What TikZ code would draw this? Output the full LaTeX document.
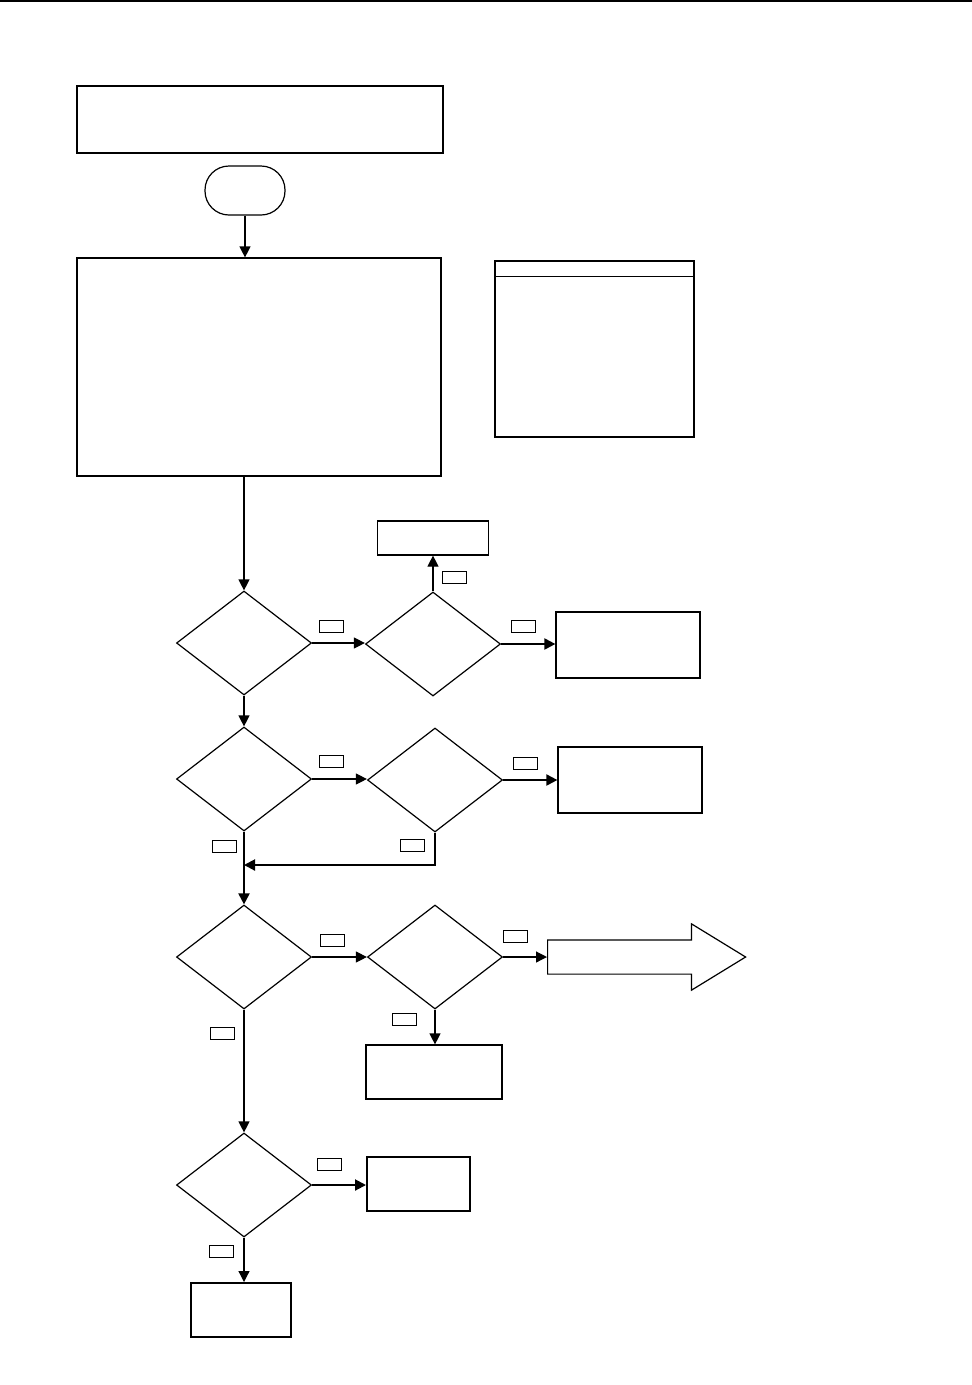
\documentclass[tikz,border=0pt]{standalone}
\usepackage{tikz}
\usetikzlibrary{arrows.meta,positioning,shapes.geometric,shapes.arrows}

\begin{document}
\begin{tikzpicture}[x=1pt, y=-1pt, line width=1.2pt,
  box/.style={draw, rectangle, inner sep=0pt},
  decision/.style={draw, diamond, inner sep=0pt, minimum width=135pt, minimum height=104pt},
  tag/.style={draw, rectangle, inner sep=0pt, line width=0.9pt, minimum width=24pt, minimum height=12pt},
  flow/.style={-{Triangle[length=11pt,width=11pt]}},
  heavy/.style={line width=2pt}]
  \useasboundingbox (0,0) rectangle (972,1385);
  % Page rule
  \draw[line width=1.6pt] (0,1) -- (972,1);
  % Header and start
  \node[box, minimum width=366pt, minimum height=67pt] (title) at (260,119.5) {};
  \node[box, rounded corners=24pt, minimum width=80pt, minimum height=49pt] (start) at (245,190.5) {};
  \node[box, minimum width=364pt, minimum height=218pt] (init) at (259,367) {};
  % Legend
  \node[box, minimum width=199pt, minimum height=176pt] (legend) at (594.5,349) {};
  \draw (legend.north west) ++(0,16) coordinate (lgl) -- (lgl -| legend.east);
  % Decisions
  \node[decision] (d1) at (244,643) {};
  \node[decision] (d2) at (433,644) {};
  \node[decision] (d3) at (244,779) {};
  \node[decision] (d4) at (435,780) {};
  \node[decision] (d5) at (244,957) {};
  \node[decision] (d6) at (435,957) {};
  \node[decision] (d7) at (244,1185) {};
  % Outcome boxes
  \node[box, minimum width=111pt, minimum height=34pt] (out1) at (433,538) {};
  \node[box, minimum width=144pt, minimum height=66pt] (out2) at (628,645) {};
  \node[box, minimum width=144pt, minimum height=66pt] (out3) at (630,780) {};
  \node[box, minimum width=136pt, minimum height=54pt] (out4) at (434,1072) {};
  \node[box, heavy, minimum width=103pt, minimum height=54pt] (out5) at (418.5,1184) {};
  \node[box, heavy, minimum width=100pt, minimum height=54pt] (out6) at (241,1310) {};
  \node[draw, single arrow, inner xsep=0pt, inner ysep=16.5pt, minimum width=65pt, minimum height=198pt,
        single arrow head extend=16pt, single arrow tip angle=63, anchor=tail] (exit) at (547,957) {};
  % Connectors
  \draw[flow] (start) -- (start |- init.north);
  \draw[flow] (init.south -| d1.north) -- (d1.north);
  \draw[flow] (d1.east) -- (d1.east -| d2.west);
  \draw[flow] (d2.north) -- (d2.north |- out1.south);
  \draw[flow, heavy] (d2.east) -- (d2.east -| out2.west);
  \draw[flow] (d1.south) -- (d3.north);
  \draw[flow] (d3.east) -- (d3.east -| d4.west);
  \draw[flow, heavy] (d4.east) -- (d4.east -| out3.west);
  \coordinate (join) at (244,865);
  \draw[flow, heavy] (d4.south) |- (join);
  \draw[flow, heavy] (d3.south) -- (d5.north);
  \draw[flow] (d5.east) -- (d6.west);
  \draw[flow] (d6.east) -- (exit.tail);
  \draw[flow] (d6.south) -- (d6.south |- out4.north);
  \draw[flow] (d5.south) -- (d7.north);
  \draw[flow, heavy] (d7.east) -- (d7.east -| out5.west);
  \draw[flow] (d7.south) -- (d7.south |- out6.north);
  % Branch tags
  \node[tag] (t1) at (331.5,626) {};
  \node[tag] (t2) at (454,577.5) {};
  \node[tag] (t3) at (523,626.5) {};
  \node[tag] (t4) at (331.5,761.5) {};
  \node[tag] (t5) at (525,763.5) {};
  \node[tag] (t6) at (412,845.5) {};
  \node[tag] (t7) at (224,846.5) {};
  \node[tag] (t8) at (332,940.5) {};
  \node[tag] (t9) at (515.5,936.5) {};
  \node[tag] (t10) at (404,1019.5) {};
  \node[tag] (t11) at (222,1033.5) {};
  \node[tag] (t12) at (329,1164.5) {};
  \node[tag] (t13) at (221,1251.5) {};
\end{tikzpicture}
\end{document}
